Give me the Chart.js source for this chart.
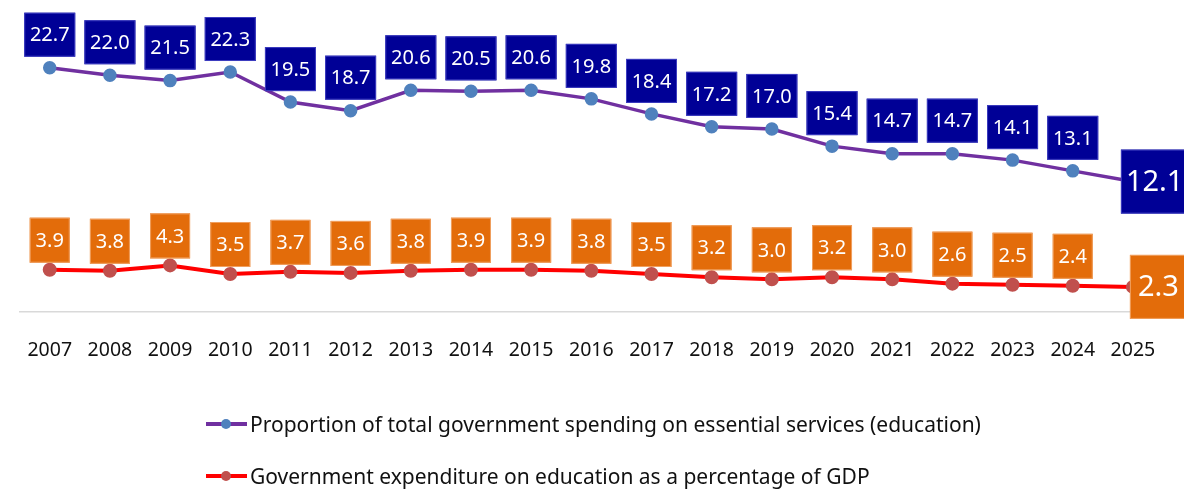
<!DOCTYPE html>
<html>
<head>
<meta charset="utf-8">
<script src="https://cdn.jsdelivr.net/npm/chart.js@4.4.1/dist/chart.umd.min.js"></script>
<style>
  html,body{margin:0;padding:0;background:#fff;}
  #wrap{position:relative;width:1184px;height:489px;}
  canvas{position:absolute;left:0;top:0;}
  .leg{position:absolute;left:206px;font-family:"Noto Sans",sans-serif;font-size:21px;color:#111;display:flex;align-items:center;white-space:nowrap;}
  .mk{position:relative;width:41px;height:10px;margin-right:3px;}
  .mk .ln{position:absolute;left:0;top:3px;width:41px;height:4px;}
  .mk .dt{position:absolute;left:15px;top:0;width:10px;height:10px;border-radius:50%;}
</style>
</head>
<body>
<div id="wrap">
  <canvas id="c" width="1184" height="489"></canvas>
  <div class="leg" style="top:410px"><div class="mk"><div class="ln" style="background:#7030A0"></div><div class="dt" style="background:#4F81BD"></div></div><span id="l1"></span></div>
  <div class="leg" style="top:462px"><div class="mk"><div class="ln" style="background:#FF0000"></div><div class="dt" style="background:#C0504D"></div></div><span id="l2"></span></div>
</div>
<script>
const years = ["2007","2008","2009","2010","2011","2012","2013","2014","2015","2016","2017","2018","2019","2020","2021","2022","2023","2024","2025"];
const shareOfSpending = [22.7,22.0,21.5,22.3,19.5,18.7,20.6,20.5,20.6,19.8,18.4,17.2,17.0,15.4,14.7,14.7,14.1,13.1,12.1];
const pctOfGDP = [3.9,3.8,4.3,3.5,3.7,3.6,3.8,3.9,3.9,3.8,3.5,3.2,3.0,3.2,3.0,2.6,2.5,2.4,2.3];
const seriesNames = ["Proportion of total government spending on essential services (education)","Government expenditure on education as a percentage of GDP"];

document.getElementById('l1').textContent = seriesNames[0];
document.getElementById('l2').textContent = seriesNames[1];

const FONT = '"Noto Sans", sans-serif';

const boxLabels = {
  id: 'boxLabels',
  afterDatasetsDraw(chart) {
    const ctx = chart.ctx;
    chart.data.datasets.forEach((ds, di) => {
      const meta = chart.getDatasetMeta(di);
      const st = ds.boxStyle;
      meta.data.forEach((pt, i) => {
        const v = ds.data[i];
        const txt = v.toFixed(1);
        const last = i === ds.data.length - 1;
        ctx.save();
        let x, y, w, h, fs;
        if (last) {
          fs = 29; w = 70; h = 64;
          x = pt.x - st.lastLeft; y = pt.y - h / 2;
        } else {
          fs = 20; w = st.w; h = st.h;
          x = pt.x - w / 2; y = pt.y - st.gap - h;
        }
        ctx.fillStyle = st.fill;
        ctx.fillRect(x, y, w, h);
        ctx.strokeStyle = st.stroke;
        ctx.lineWidth = 1;
        ctx.strokeRect(x + 0.5, y + 0.5, w - 1, h - 1);
        ctx.fillStyle = '#ffffff';
        ctx.font = fs + 'px ' + FONT;
        ctx.textAlign = last ? 'left' : 'center';
        ctx.textBaseline = 'middle';
        if (last) ctx.fillText(txt, x + st.lastText, y + h / 2 + 1);
        else ctx.fillText(txt, x + w / 2, y + h / 2 + 1);
        ctx.restore();
      });
    });
  }
};

new Chart(document.getElementById('c'), {
  type: 'line',
  data: {
    labels: years,
    datasets: [
      {
        label: seriesNames[0], data: shareOfSpending,
        borderColor: '#7030A0', borderWidth: 3.5,
        pointBackgroundColor: '#4F81BD', pointBorderColor: '#4F81BD',
        pointRadius: 5, tension: 0,
        boxStyle: { fill: '#000096', stroke: '#3d3dc0', w: 51, h: 44, gap: 11, lastLeft: 12, lastText: 5 }
      },
      {
        label: seriesNames[1], data: pctOfGDP,
        borderColor: '#FF0000', borderWidth: 4,
        pointBackgroundColor: '#C0504D', pointBorderColor: '#C0504D',
        pointRadius: 5, tension: 0,
        boxStyle: { fill: '#E36C0A', stroke: '#f0a060', w: 40, h: 45, gap: 7, lastLeft: 3, lastText: 8 }
      }
    ]
  },
  options: {
    responsive: false,
    animation: false,
    clip: false,
    layout: { padding: { left: 16, right: 21, top: 43, bottom: 100 } },
    plugins: { legend: { display: false }, tooltip: { enabled: false } },
    scales: {
      x: {
        offset: true,
        grid: { display: false, drawTicks: false },
        border: { display: true, color: '#d9d9d9', width: 1.5 },
        ticks: { color: '#111', font: { family: FONT, size: 19.5 }, padding: 27, maxRotation: 0, autoSkip: false }
      },
      y: {
        display: false,
        min: 0, max: 25
      }
    }
  },
  plugins: [boxLabels]
});
</script>
</body>
</html>
